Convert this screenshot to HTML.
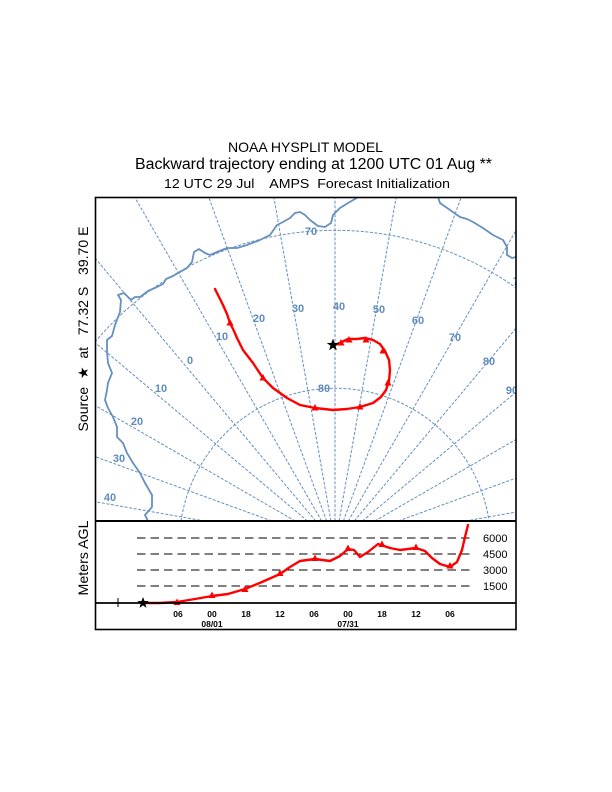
<!DOCTYPE html>
<html>
<head>
<meta charset="utf-8">
<style>
  html,body{margin:0;padding:0;background:#fff;width:612px;height:792px;overflow:hidden;}
  svg{display:block;}
  text{font-family:"Liberation Sans", Arial, sans-serif;}
</style>
</head>
<body>
<svg width="612" height="792" viewBox="0 0 612 792" xmlns="http://www.w3.org/2000/svg">
  <rect x="0" y="0" width="612" height="792" fill="#fff"/>

  <!-- Titles -->
  <text x="305.5" y="152" font-size="14" text-anchor="middle" textLength="155" lengthAdjust="spacingAndGlyphs">NOAA HYSPLIT MODEL</text>
  <text x="313.5" y="169" font-size="15.5" text-anchor="middle" textLength="357" lengthAdjust="spacingAndGlyphs">Backward trajectory ending at 1200 UTC 01 Aug **</text>
  <text x="307" y="188" font-size="13" text-anchor="middle" textLength="286" lengthAdjust="spacingAndGlyphs" xml:space="preserve">12 UTC 29 Jul    AMPS  Forecast Initialization</text>

  <!-- Left rotated labels -->
  <text transform="translate(88,329) rotate(-90)" font-size="14" text-anchor="middle" textLength="205" lengthAdjust="spacingAndGlyphs" xml:space="preserve">Source  ★  at   77.32 S   39.70 E</text>
  <text transform="translate(88,558) rotate(-90)" font-size="14" text-anchor="middle" textLength="75" lengthAdjust="spacingAndGlyphs">Meters AGL</text>

  <defs>
    <clipPath id="map"><rect x="95" y="197" width="421" height="324"/></clipPath>
  </defs>

  <!-- Map content -->
  <g clip-path="url(#map)">
    <g stroke="#6590c0" stroke-width="1" fill="none" stroke-dasharray="3 1.6">
      <line x1="204.5" y1="521" x2="95" y2="501.7"/>
      <line x1="271.8" y1="521" x2="95" y2="456.6"/>
      <line x1="295.2" y1="521" x2="95" y2="405.4"/>
      <line x1="307.6" y1="521" x2="95" y2="342.6"/>
      <line x1="315.7" y1="521" x2="95" y2="258"/>
      <line x1="321.7" y1="521" x2="134.6" y2="197"/>
      <line x1="326.6" y1="521" x2="208.7" y2="197"/>
      <line x1="330.9" y1="521" x2="273.8" y2="197"/>
      <line x1="335" y1="521" x2="335" y2="197"/>
      <line x1="339.1" y1="521" x2="396.2" y2="197"/>
      <line x1="343.4" y1="521" x2="461.3" y2="197"/>
      <line x1="348.3" y1="521" x2="516" y2="230.5"/>
      <line x1="354.3" y1="521" x2="516" y2="328.3"/>
      <line x1="362.4" y1="521" x2="516" y2="392.1"/>
      <line x1="374.8" y1="521" x2="516" y2="439.5"/>
      <line x1="398.2" y1="521" x2="516" y2="478.1"/>
      <line x1="465.5" y1="521" x2="516" y2="512.1"/>
      <path d="M181,521 A155.7,155.7 0 0 1 489,521"/>
      <path d="M95,342 A313.7,313.7 0 0 1 516,287.8"/>
    </g>

    <!-- Coastline -->
    <g stroke="#6590c0" stroke-width="1.8" fill="none" stroke-linejoin="round">
      <polyline points="148,521 145,515 152,507 152,495 145,483 140,473 133,463 127,453 123,443 117,437 117,427 113,417 108,408 105,400 107,390 108,383 112,373 108,363 107,352 107,340 112,336 115,325 120,312 121,300 118,295 124,293 131,300 135,297 140,297 148,291 157,287 163,284 166,279 173,276 180,272 187,268 192,262 194,252 199,249 205,253 210,255 217,252 227,248 237,248 247,245 260,240 270,235 277,225 283,222 290,218 295,213 300,212 305,215 310,220 318,226 325,227 331,223 333,215 340,208 348,203 355,199 358,197"/>
      <polyline points="438,197 440,203 450,210 460,217 467,219 473,222 483,228 493,235 503,240 507,247 507,255 512,258 516,257"/>
    </g>

    <!-- Map labels -->
    <g fill="#5f8cbf" font-size="11" font-weight="bold" text-anchor="middle">
      <text x="110" y="501">40</text>
      <text x="119" y="462">30</text>
      <text x="137" y="425">20</text>
      <text x="161" y="392">10</text>
      <text x="190" y="364">0</text>
      <text x="222" y="340">10</text>
      <text x="259" y="322">20</text>
      <text x="298" y="312">30</text>
      <text x="339" y="310">40</text>
      <text x="379" y="313">50</text>
      <text x="418" y="324">60</text>
      <text x="455" y="341">70</text>
      <text x="489" y="365">80</text>
      <text x="512" y="394">90</text>
      <text x="311" y="235">70</text>
      <text x="324" y="392">80</text>
      <text x="516" y="285">7</text>
    </g>

    <!-- Trajectory on map -->
    <polyline fill="none" stroke="#ff0000" stroke-width="2.4" stroke-linejoin="round" stroke-linecap="round"
      points="215,289 219,297 223,305 227,314 230,323 234,331 237,338 243,350 253,363 263,378 273,388 287,398 300,405 315,408 333,410 347,409 360,407 373,403 381,397 386,390 389,381 390,370 389,360 385,351 380,344 373,340 365,338 357,339 348,339 342,342 335,345"/>
    <g fill="#ff0000">
      <polygon points="230,319 226.5,325.5 233.5,325.5"/>
      <polygon points="263,374 259.5,380.5 266.5,380.5"/>
      <polygon points="315,404 311.5,410.5 318.5,410.5"/>
      <polygon points="360,403 356.5,409.5 363.5,409.5"/>
      <polygon points="388,379 384.5,385.5 391.5,385.5"/>
      <polygon points="383,347 379.5,353.5 386.5,353.5"/>
      <polygon points="366,336 362.5,342.5 369.5,342.5"/>
      <polygon points="349,336 345.5,342.5 352.5,342.5"/>
      <polygon points="341,339 337.5,345.5 344.5,345.5"/>
    </g>
    <path fill="#000" transform="translate(333,345)" d="M0,-6.5 L1.6,-2.1 L6.2,-2 L2.5,0.8 L3.8,5.3 L0,2.6 L-3.8,5.3 L-2.5,0.8 L-6.2,-2 L-1.6,-2.1 Z"/>
  </g>

  <!-- Lower panel -->
  <g stroke="#000" stroke-width="1" stroke-dasharray="8.5 5" fill="none">
    <line x1="137" y1="538" x2="474" y2="538"/>
    <line x1="137" y1="554" x2="474" y2="554"/>
    <line x1="137" y1="570" x2="474" y2="570"/>
    <line x1="137" y1="586" x2="474" y2="586"/>
  </g>
  <g font-size="11" fill="#000">
    <text x="483" y="542">6000</text>
    <text x="483" y="558">4500</text>
    <text x="483" y="574">3000</text>
    <text x="483" y="590">1500</text>
  </g>

  <polyline fill="none" stroke="#ff0000" stroke-width="2.4" stroke-linejoin="round" stroke-linecap="round"
    points="143,603 160,603 177,602 195,599 212,596 228,594 245,589 262,582 280,574 290,567 300,561 315,559 330,561 340,556 348,549 354,550 360,557 368,552 378,544 390,548 400,550 416,548 425,551 432,558 440,564 450,567 457,562 462,550 465,537 468,525"/>
  <g fill="#ff0000">
    <polygon points="177,598.5 173.5,605 180.5,605"/>
    <polygon points="212,591.5 208.5,598 215.5,598"/>
    <polygon points="245,585.5 241.5,592 248.5,592"/>
    <polygon points="280,569.5 276.5,576 283.5,576"/>
    <polygon points="315,554.5 311.5,561 318.5,561"/>
    <polygon points="348,544.5 344.5,551 351.5,551"/>
    <polygon points="382,540.5 378.5,547 385.5,547"/>
    <polygon points="416,543.5 412.5,550 419.5,550"/>
    <polygon points="450,562 446.5,568.5 453.5,568.5"/>
  </g>

  <!-- baseline -->
  <line x1="95" y1="603" x2="516" y2="603" stroke="#000" stroke-width="1.8"/>
  <path fill="#000" transform="translate(143,603)" d="M0,-6 L1.5,-2 L5.7,-1.9 L2.3,0.7 L3.5,4.9 L0,2.4 L-3.5,4.9 L-2.3,0.7 L-5.7,-1.9 L-1.5,-2 Z"/>
  <g stroke="#000" stroke-width="1">
    <line x1="118" y1="598" x2="118" y2="607"/>
    <line x1="114" y1="603" x2="122" y2="603"/>
  </g>

  <!-- time labels -->
  <g font-size="8.5" font-weight="bold" text-anchor="middle" fill="#000">
    <text x="178" y="617">06</text>
    <text x="212" y="617">00</text>
    <text x="246" y="617">18</text>
    <text x="280" y="617">12</text>
    <text x="314" y="617">06</text>
    <text x="348" y="617">00</text>
    <text x="382" y="617">18</text>
    <text x="416" y="617">12</text>
    <text x="450" y="617">06</text>
    <text x="212" y="627">08/01</text>
    <text x="348" y="627">07/31</text>
  </g>

  <!-- Frames -->
  <g fill="none" stroke="#000">
    <rect x="95.5" y="197.5" width="420.5" height="432" stroke-width="1.6"/>
    <line x1="95" y1="521" x2="516" y2="521" stroke-width="2"/>
  </g>
</svg>
</body>
</html>
